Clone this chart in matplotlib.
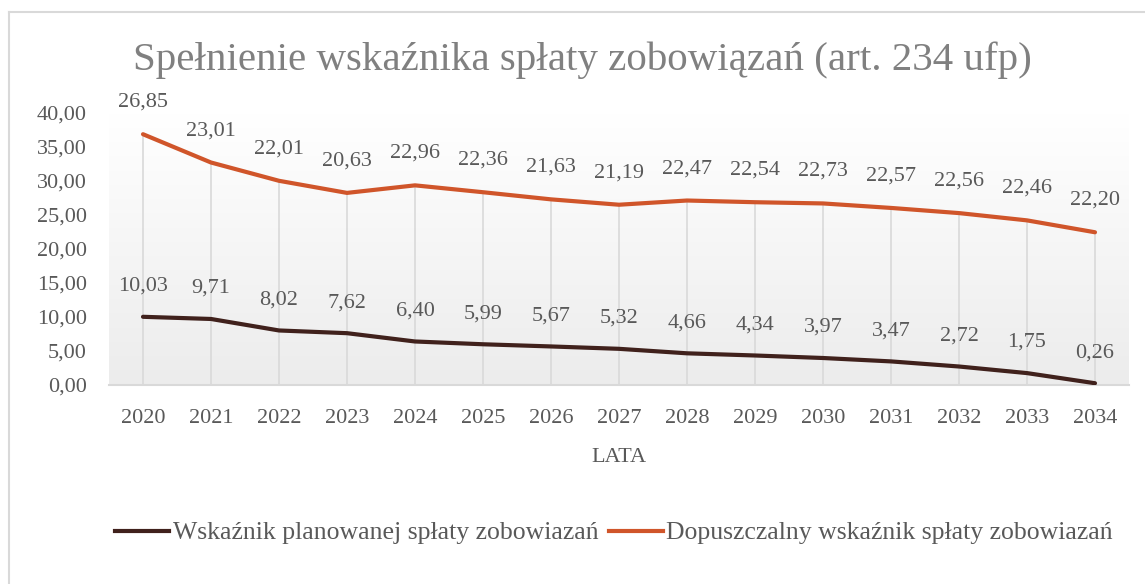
import numpy as np
import matplotlib
matplotlib.use("Agg")
import matplotlib.pyplot as plt
from matplotlib.lines import Line2D
from matplotlib.colors import LinearSegmentedColormap

years = ["2020", "2021", "2022", "2023", "2024", "2025", "2026", "2027",
         "2028", "2029", "2030", "2031", "2032", "2033", "2034"]
planowany = [10.03, 9.71, 8.02, 7.62, 6.40, 5.99, 5.67, 5.32,
             4.66, 4.34, 3.97, 3.47, 2.72, 1.75, 0.26]
dopuszczalny = [26.85, 23.01, 22.01, 20.63, 22.96, 22.36, 21.63, 21.19,
                22.47, 22.54, 22.73, 22.57, 22.56, 22.46, 22.20]

title = "Spełnienie wskaźnika spłaty zobowiązań (art. 234 ufp)"
label_plan = "Wskaźnik planowanej spłaty zobowiazań"
label_dop = "Dopuszczalny wskaźnik spłaty zobowiazań"

DARK = "#40211c"
ORANGE = "#d0552a"
TEXT = "#595959"

plt.rcParams["font.family"] = ["Liberation Serif", "DejaVu Serif"]


def fmt(v):
    return f"{v:.2f}".replace(".", ",")


W, H = 1145, 584
fig = plt.figure(figsize=(W / 100, H / 100), dpi=100)

# chart border (top and left edges visible)
fig.add_artist(Line2D([8.5 / W, 8.5 / W], [0, 1 - 11.5 / H], transform=fig.transFigure,
                      color="#d9d9d9", lw=1.5))
fig.add_artist(Line2D([8.5 / W, 1], [1 - 11.5 / H, 1 - 11.5 / H], transform=fig.transFigure,
                      color="#d9d9d9", lw=1.5))

ax = fig.add_axes([109 / W, 199 / H, 1020 / W, 272 / H])

x = np.arange(len(years))
plan = np.array(planowany)
total = plan + np.array(dopuszczalny)  # stacked line chart

# gradient background, white on top
grad = np.linspace(0, 1, 256).reshape(-1, 1)
ax.imshow(grad, extent=[-0.5, len(years) - 0.5, 0, 40], aspect="auto", origin="lower",
          cmap=LinearSegmentedColormap.from_list("g", ["#ececec", "#ffffff"]),
          vmin=0, vmax=1, zorder=0)

ax.vlines(x, 0, total, color="#d9d9d9", lw=1.2, zorder=1)
ax.plot(x, plan, color=DARK, lw=3, solid_capstyle="round", zorder=3)
ax.plot(x, total, color=ORANGE, lw=3, solid_capstyle="round", zorder=3)

for xi, yv, v in zip(x, plan, planowany):
    ax.annotate(fmt(v), (xi, yv), xytext=(0, 22), textcoords="offset points",
                ha="center", va="center", fontsize=16, color=TEXT)
for xi, yv, v in zip(x, total, dopuszczalny):
    ax.annotate(fmt(v), (xi, yv), xytext=(0, 23), textcoords="offset points",
                ha="center", va="center", fontsize=16, color=TEXT)

ax.set_xlim(-0.5, len(years) - 0.5)
ax.set_ylim(0, 40)
ax.set_yticks(np.arange(0, 41, 5))
ax.set_yticklabels([fmt(v) for v in np.arange(0, 41, 5)])
ax.set_xticks(x)
ax.set_xticklabels(years)
ax.tick_params(axis="y", length=0, pad=16, labelsize=16, labelcolor=TEXT)
ax.tick_params(axis="x", length=0, pad=17, labelsize=16, labelcolor=TEXT)
for s in ["top", "right", "left"]:
    ax.spines[s].set_visible(False)
ax.spines["bottom"].set_color("#d9d9d9")
ax.spines["bottom"].set_linewidth(1.5)

ax.set_xlabel("LATA", fontsize=16, color=TEXT, labelpad=15)

fig.text(582 / W, 1 - 60 / H, title, ha="center", va="center", fontsize=29.5, color="#808080")

handles = [Line2D([], [], color=DARK, lw=3), Line2D([], [], color=ORANGE, lw=3)]
fig.legend(handles, [label_plan, label_dop], loc="center", bbox_to_anchor=(614 / W, 1 - 533 / H),
           ncol=2, frameon=False, fontsize=18.5, labelcolor=TEXT, handlelength=2.1,
           handletextpad=0.15, columnspacing=0.4)

fig.savefig("out.png", dpi=100)
